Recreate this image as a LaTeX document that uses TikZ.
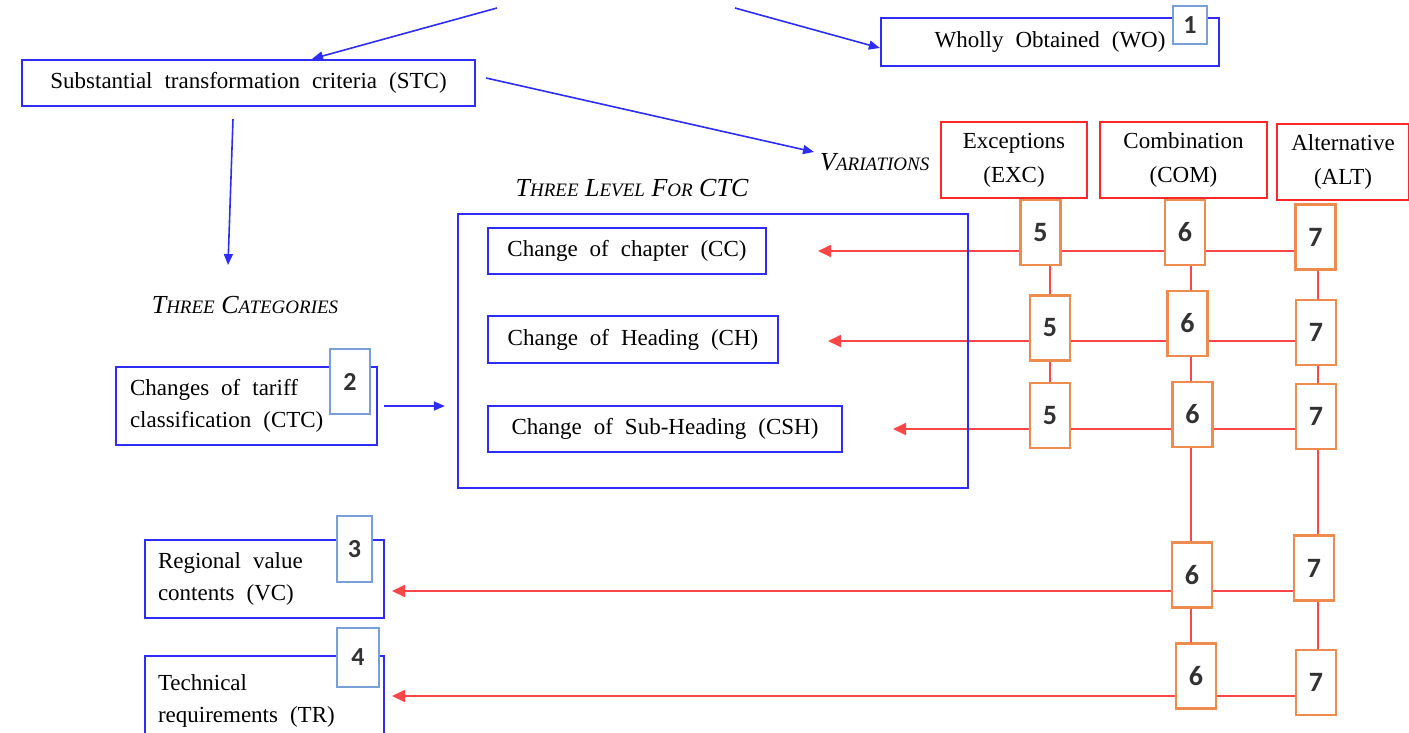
\documentclass[tikz,border=0pt]{standalone}
\usepackage{fontspec}
\setmainfont{Liberation Serif}
\newfontfamily\numfont{Carlito}
\usetikzlibrary{arrows.meta,backgrounds}
\definecolor{bluebox}{RGB}{45,45,245}
\definecolor{lblue}{RGB}{120,160,215}
\definecolor{orangeb}{RGB}{238,140,80}
\definecolor{redb}{RGB}{250,40,40}
\definecolor{redl}{RGB}{250,70,70}
\definecolor{numgray}{RGB}{50,50,50}
\newcommand\fsc[2]{#1{\fontsize{19}{19}\selectfont #2}}
\newcommand\wsp{\spaceskip=12pt plus 2pt minus 1pt\relax}
\tikzset{
  bbox/.style={draw=bluebox, line width=2.2pt, fill=white, inner sep=0pt, font=\fontsize{23}{32}\selectfont\wsp},
  lbl/.style={draw=lblue, line width=2.2pt, fill=white, inner sep=0pt, font=\numfont\bfseries\fontsize{26}{26}\selectfont, text=numgray},
  obox/.style={draw=orangeb, line width=2.2pt, fill=white, inner sep=0pt, minimum width=40pt, minimum height=65pt, font=\numfont\bfseries\fontsize{28}{28}\selectfont, text=numgray},
  rbox/.style={draw=redb, line width=2pt, fill=white, inner sep=0pt, align=center, minimum height=76pt, font=\fontsize{23}{34}\selectfont},
  ital/.style={inner sep=0pt, font=\itshape\fontsize{26}{26}\selectfont},
  barrow/.style={draw=bluebox, line width=1.6pt, -{Triangle[length=11pt,width=9pt]}},
  rarrow/.style={draw=redl, line width=1.8pt, -{Triangle[length=13pt,width=12pt]}},
  rline/.style={draw=redl, line width=1.8pt}
}
\begin{document}
\begin{tikzpicture}[x=1pt,y=-1pt]
\useasboundingbox (0,0) rectangle (1409,732);
% top level boxes
\node[bbox, minimum width=453pt, minimum height=46pt] (stc) at (248.5,83) {Substantial transformation criteria (STC)};
\node[bbox, minimum width=338pt, minimum height=48pt] (wo) at (1050,42) {Wholly Obtained (WO)};
\node[lbl, minimum width=34pt, minimum height=38pt] (one) at (1190,25) {1};
\coordinate (t1) at (497,8);
\coordinate (t2) at (735,8);
\draw[barrow] (t1) -- ([xshift=63.5pt]stc.north);
\draw[barrow] (t2) -- ([yshift=-6pt]wo.west);
% captions
\node[ital, anchor=west] (var) at (820,162) {\fsc{V}{ARIATIONS}};
\node[ital] (cat) at (245,305) {\fsc{T}{HREE} \fsc{C}{ATEGORIES}};
\node[ital] (lev) at (632,188) {\fsc{T}{HREE} \fsc{L}{EVEL} \fsc{F}{OR} CTC};
\draw[barrow] ([xshift=10pt,yshift=5pt]stc.east) -- ([xshift=-6pt,yshift=10pt]var.west);
\coordinate (d1) at (228,265);
\draw[barrow] ([xshift=-15.5pt,yshift=-12pt]stc.south) -- (d1);
% left category boxes
\node[bbox, minimum width=261pt, minimum height=78pt, text width=233pt, align=left] (ctc) at (246.5,406) {\wsp Changes of tariff\\\wsp classification (CTC)};
\node[lbl, minimum width=40pt, minimum height=65pt] (two) at (350,381.5) {2};
\node[bbox, minimum width=239pt, minimum height=78pt, text width=213pt, align=left] (vc) at (264.5,579) {\wsp Regional value\\\wsp contents (VC)};
\node[lbl, minimum width=35pt, minimum height=66pt] (three) at (354.5,549) {3};
\node[bbox, minimum width=239pt, minimum height=90pt, text width=213pt, align=left] (tr) at (264.5,701) {\wsp Technical\\\wsp requirements (TR)};
\node[lbl, minimum width=42pt, minimum height=59pt] (four) at (358,657.5) {4};
% three levels
\node[bbox, fill=none, minimum width=510pt, minimum height=274pt] (big) at (713,351) {};
\node[bbox, minimum width=278pt, minimum height=46pt] (cc) at (627,251) {Change of chapter (CC)};
\node[bbox, minimum width=290pt, minimum height=47pt] (ch) at (633,339.5) {Change of Heading (CH)};
\node[bbox, minimum width=354pt, minimum height=46pt] (csh) at (665,429) {Change of Sub-Heading (CSH)};
\draw[barrow] ([xshift=6pt]ctc.east) -- ([xshift=-12pt]big.west |- ctc.east);
% variations headers
\node[rbox, minimum width=146pt] (exc) at (1014,160) {Exceptions\\(EXC)};
\node[rbox, minimum width=167pt] (com) at (1183.5,160) {Combination\\(COM)};
\node[rbox, minimum width=132pt] (alt) at (1343,162) {Alternative\\(ALT)};
% number boxes
\node[obox] (n51) at (1040.5,232.5) {5};
\node[obox] (n61) at (1185,232.5) {6};
\node[obox] (n71) at (1315.5,237) {7};
\node[obox] (n52) at (1050,328) {5};
\node[obox] (n62) at (1187.5,323.5) {6};
\node[obox] (n72) at (1316,332.5) {7};
\node[obox] (n53) at (1050,415.5) {5};
\node[obox] (n63) at (1192.5,414.5) {6};
\node[obox] (n73) at (1316,416.5) {7};
\node[obox] (n64) at (1192,575) {6};
\node[obox] (n74) at (1314,568) {7};
\node[obox] (n65) at (1196,676) {6};
\node[obox] (n75) at (1316,682.5) {7};
% arrow tips
\coordinate (a1) at (818,251);
\coordinate (a2) at (828,341);
\coordinate (a3) at (893,429);
\coordinate (a4) at (392,591);
\coordinate (a5) at (392,696);
\begin{scope}[on background layer]
\draw[rarrow] (n71.west |- a1) -- (a1);
\draw[rarrow] (n72.west |- a2) -- (a2);
\draw[rarrow] (n73.west |- a3) -- (a3);
\draw[rarrow] (n74.west |- a4) -- (a4);
\draw[rarrow] (n75.west |- a5) -- (a5);
\draw[rline] ([xshift=9.5pt]n51.south) -- ([xshift=9.5pt]n51.south |- n53.north);
\draw[rline] ([xshift=6pt]n61.south) -- ([xshift=6pt]n61.south |- n65.north);
\draw[rline] ([xshift=2.5pt]n71.south) -- ([xshift=2.5pt]n71.south |- n75.north);
\end{scope}
\end{tikzpicture}
\end{document}
